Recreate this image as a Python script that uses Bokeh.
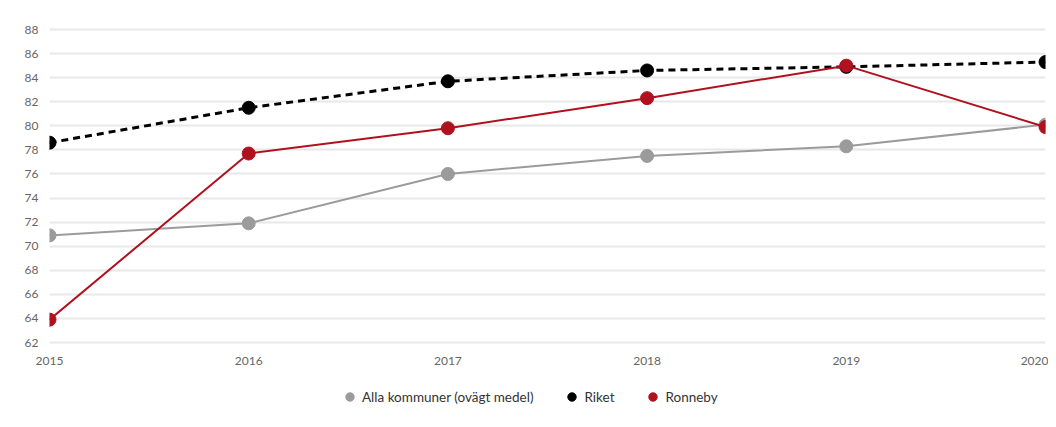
from bokeh.plotting import figure
from bokeh.layouts import column
from bokeh.models import ColumnDataSource, Legend, LegendItem, FixedTicker, Range1d
from bokeh.embed import file_html
from bokeh.resources import INLINE

years = [2015, 2016, 2017, 2018, 2019, 2020]
alla = [70.9, 71.9, 76.0, 77.5, 78.3, 80.1]
riket = [78.6, 81.5, 83.7, 84.6, 84.9, 85.3]
ronneby = [63.9, 77.7, 79.8, 82.3, 85.0, 79.9]
y_ticks = list(range(62, 89, 2))

names = ["Alla kommuner (ovägt medel)", "Riket", "Ronneby"]
colors = ["#9b9b9b", "#000000", "#b0111e"]
font = "Lato"

p = figure(width=1048, height=372, output_backend="svg", toolbar_location=None,
           x_range=Range1d(2015, 2020), y_range=Range1d(61.42, 88.75),
           min_border_left=49, min_border_right=3, min_border_top=20, min_border_bottom=23)
p.outline_line_color = None

src = ColumnDataSource(dict(x=years, alla=alla, riket=riket, ronneby=ronneby))

p.line("x", "alla", source=src, line_color=colors[0], line_width=2)
p.scatter("x", "alla", source=src, size=13, fill_color=colors[0], line_color=colors[0])
p.line("x", "riket", source=src, line_color=colors[1], line_width=3, line_dash="7 5")
p.scatter("x", "riket", source=src, size=13, fill_color=colors[1], line_color=colors[1])
p.line("x", "ronneby", source=src, line_color=colors[2], line_width=2)
p.scatter("x", "ronneby", source=src, size=13, fill_color=colors[2], line_color=colors[2])

p.xaxis.ticker = FixedTicker(ticks=years)
p.yaxis.ticker = FixedTicker(ticks=y_ticks)
for ax in (p.xaxis, p.yaxis):
    ax.axis_line_color = None
    ax.major_tick_line_color = None
    ax.minor_tick_line_color = None
    ax.major_label_text_color = "#666666"
    ax.major_label_text_font = font
    ax.major_label_text_font_size = "12px"
p.xaxis.major_label_standoff = 1
p.yaxis.major_label_standoff = 5

p.xgrid.grid_line_color = None
p.ygrid.grid_line_color = "#e8e8e8"
p.ygrid.grid_line_width = 2

# legend figure
lf = figure(width=1048, height=47, output_backend="svg", toolbar_location=None,
            x_range=Range1d(0, 1), y_range=Range1d(0, 1),
            min_border_left=0, min_border_right=0, min_border_top=0, min_border_bottom=0)
lf.outline_line_color = None
lf.axis.visible = False
lf.grid.visible = False
rs = []
for c in colors:
    s = ColumnDataSource(dict(x=[-5], y=[-5]))
    rs.append(lf.scatter("x", "y", source=s, size=12, fill_color=c, line_color=c))

legend = Legend(items=[LegendItem(label=n, renderers=[r]) for n, r in zip(names, rs)],
                orientation="horizontal", location=(290, 12))
legend.border_line_color = None
legend.background_fill_alpha = 0
legend.label_text_font = font
legend.label_text_font_size = "13.5px"
legend.label_text_color = "#333333"
legend.glyph_width = 21
legend.glyph_height = 21
legend.spacing = 28
legend.label_standoff = 2
legend.margin = 0
legend.padding = 4
lf.add_layout(legend, "center")

open("out.html", "w").write(file_html(column(p, lf, spacing=0), INLINE))
